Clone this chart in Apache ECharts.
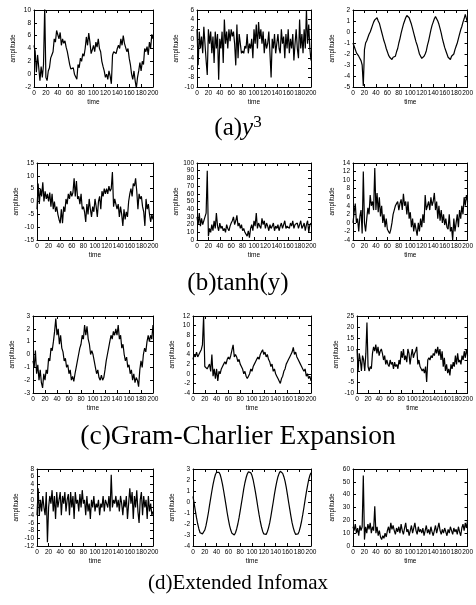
<!DOCTYPE html>
<html>
<head>
<meta charset="utf-8">
<script src="https://cdn.jsdelivr.net/npm/echarts@6/dist/echarts.min.js"></script>
<style>
html,body{margin:0;padding:0;background:#fff;}
#main{width:476px;height:605px;}
</style>
</head>
<body>
<div id="main"></div>
<script>
// time axis: one sample every 2 units, 0..200
var timeStep = 2;
var xTicks = [0, 200, 20];

// (a) y^3
var a1 = [4.5, 3.5, 0.3, 3, 3.2, -1, 1.2, -0.5, 1.5, 10.5,
  -0.5, -1, 0.5, 1, 2.5, 3, 3.5, 5.5, 5, 6.8,
  6.5, 5.5, 6.5, 4.5, 5.5, 4.8, 5.2, 4.2, 3.5, 2.5,
  1.5, 0.8, 0.5, 1, 0, 0.3, -0.8, 1.5, 1, 2.5,
  2, 3.2, 2.8, 4, 5.8, 4.5, 6.4, 5, 3.2, 3.8,
  4.5, 3.5, 5, 4.2, 5.5, 4, 3.5, 2, 1.2, 0.5,
  -0.5, 0, -0.8, 0.5, -0.3, -1.5, 3, 3.5, 3.8, 3.2,
  4, 4.5, 4, 5.5, 4.5, 6, 4.8, 4.5, 3.5, 4,
  2.5, 1.5, 0, -0.8, 0.5, -1, -2.2, -0.5, 0.5, 1.8,
  0.5, 2, 1.5, 4, 3.5, 4.3, 3, 5, 4, 6.2,
  5.5];
var a2 = [2, -5.5, 1.5, -2, 0.5, -3, 2.5, -1, -4.5, -7.5,
  2, -1, 1.5, -3, 0.5, -5, 1.5, -2, 1, -8.5,
  0, -2, 1.5, -5, 4, -1, 1.5, -2, 2, -0.5,
  2, 0.5, 1.5, -1, -5.5, 3, -4, 1, -1, -3,
  -2.5, -3, -1.5, -2, 1, -3, -1, -2, 0, -4,
  2, -1, 3, -2, 3.5, 0, 2, -1, 1.5, -3,
  0, -2, -1, 1.5, -3, -8, 0, -2, 1, -3,
  -1, 1, -2, -3, 2, -1, 0.5, -4, 1, -2,
  2, -3, 0, -2, 1, -4.5, -1, 2, -2, -4,
  4, -2, 1, -3, 2, -2, 6, -1, 3, -2,
  -4.5];
var a3 = [-1, -1.3, -1.2, -1.9, -2, -2.2, -2.3, -2.6, -3, -4.9,
  -1.6, -1, -0.8, -0.5, -0.2, 0, 0.3, 0.6, 0.9, 1.1,
  1.2, 1.3, 1, 0.8, 0.4, 0, -0.4, -0.8, -1.1, -1.5,
  -1.8, -2.1, -2.3, -2.4, -2.5, -2.3, -2.4, -2.2, -1.8, -1.5,
  -1, -0.6, -0.1, 0.3, 0.7, 1, 1.3, 1.5, 1.6, 1.3,
  1, 0.7, 0.3, -0.1, -0.5, -0.9, -1.2, -1.6, -2, -2.1,
  -2.4, -2.5, -2.2, -2, -1.7, -1.2, -0.8, -0.3, 0.2, 0.6,
  0.9, 1.2, 1.4, 1.3, 1, 0.7, 0.3, -0.1, -0.6, -1,
  -1.4, -1.7, -2, -2.3, -2.4, -2.5, -2.2, -2.3, -2, -1.6,
  -1.3, -1, -0.6, -0.2, 0.2, 0.5, 0.9, 1.2, 1.6, 1.5,
  0.8];

// (b) tanh(y)
var b1 = [-3, 7, -1, 5, 2, 7.5, 0, 4, 1, 3,
  0, 3.5, -2, 3, -3, 0, -4, -2, -5, -7,
  -8.5, -3, -8.5, -2, -4, 1, -1, 3, 1, 4,
  2, 3.5, 9, 2, 8, 1, 2, -1, 3, -3,
  -2, -4, -8, -1, -5, 1, -3, -6, -2, -4,
  1, -2, -6, 0, 2, -3, 4, 2, 5, 3,
  5, 3, 6, 4, 5, 11.5, -2, 1, -1, -3,
  -1, -6, -2, -5, -9.5, -3, -7, -4, -6, 0,
  3, 5, 2, 7, 6, 9, 4, -3, 3, 1,
  2, -2, -4, -9.5, 1, -3, -1, -5, -8, -5,
  -7];
var b2 = [30, 20, 35, 18, 28, 20, 22, 30, 35, 90,
  5, 15, 10, 20, 12, 25, 15, 35, 18, 12,
  22, 15, 18, 12, 15, 10, 20, 15, 12, 18,
  22, 25, 30, 20, 25, 32, 18, 22, 15, 20,
  12, 15, 10, 8, 5, 12, 3, 15, 20, 12,
  25, 18, 35, 15, 22, 18, 15, 28, 20, 25,
  15, 22, 18, 12, 20, 15, 18, 22, 12, 18,
  15, 20, 12, 18, 22, 15, 20, 25, 15, 18,
  20, 15, 22, 18, 25, 15, 20, 18, 22, 15,
  20, 25, 15, 18, 22, 12, 20, 25, 10, 20,
  22];
var b3 = [0, 2.5, 4.5, 0, 1, -2, 1.5, 3, -2.5, 12,
  0, -2, 1, 3.5, 2, 6.5, 4, 5, 3, 12.8,
  3, 7, 2.5, 6, 1.5, 4, 0, 2, -1, 1,
  -1.5, -2, -2.5, -1.5, 0, 2, 3, 4, 4.5, 5,
  3, 4.5, 5.5, 3, 6.8, 4, 5, 2, 5, 1,
  2.5, -1, 1, -2, 0, -1.5, -3, 0, -2, 1,
  -1, 2, 0, 6.5, 3, 4, 5, 3, 6, 4,
  5, 7, 3, 5, 1, 4, 0.5, 3, 0, 2,
  -0.5, 1, -1, -1.5, 2, -2, -1, -4, 1, -2,
  0, 2, -1, 3, 1, 4, 2, 6, 4, 6.5,
  5];

// (c) Gram-Charlier Expansion
var c1 = [-0.5, -1, 0.3, -1.5, -0.8, -2, -1.2, -2.2, -2.6, -1.5,
  -2, -1.2, -1.5, -0.3, -0.5, 0.5, 0.3, 1, 1.8, 2.8,
  1.5, 2, 0.8, 1.5, 0.5, 0.2, -0.5, -0.3, -1, -0.8,
  -1.5, -1.2, -2, -1.7, -2.1, -1.5, -1, -0.5, 0, 0.5,
  0.8, 1.5, 1.2, 2.3, 1.5, 2.2, 1.2, 0.8, 0, 0.3,
  0, -0.5, -1, -1.5, -1.2, -1.8, -2, -1.6, -2, -1.8,
  -1.2, -0.5, 0, 0.5, 1, 1.5, 1.2, 1.8, 1.5, 2,
  1.5, 2.3, 1.2, 1.5, 0.5, 0.8, 0, -0.5, -0.2, -1,
  -0.8, -1.5, -1.2, -2, -1.5, -2.2, -1.8, -2, -2.5, -1.2,
  -0.5, -1, 0, 0.5, 0.2, 1, 1.5, 1, 1.5, 1.2,
  2.3];
var c2 = [3, 4, 3.5, 4.5, 3.5, 4, 4.5, 5, 6, 12,
  1.5, 1.8, 1, 1.5, 2, 0.5, 4, -0.5, 1, -1,
  1, -1.5, 0.5, 0, 1, 1.5, 2, 2.5, 2, 3,
  3.5, 3, 3.8, 4, 6, 3.5, 4, 3.5, 2.5, 3,
  2, 1.5, 1, 0, 0.5, -0.5, -1, -0.5, 0, 1,
  0.5, 1.5, 2, 2.5, 3, 3.5, 3, 4, 4.5, 5,
  4, 4.5, 3.5, 4, 3, 2.5, 1.5, 2, 0.5, 1,
  0, -0.5, -1, -1.5, -2, -1, -0.5, 0.5, 1, 2,
  2.5, 3, 3.5, 4, 4.5, 5.5, 4, 4.5, 3.5, 3,
  3, 2, 1.5, 1, 0.5, 1, -0.5, 0, -1, -0.5,
  -1.5];
var c3 = [10, 0, 8, 5, 0, 7, 5, 0, 8, 22,
  2, 0, 2, 1, 8, 11, 9, 12, 8, 11,
  7, 9, 10, 8, 5, 7, 3, 5, 3, 2,
  5, 3, 4, 1, 4, 2, 3, 1, 5, 3,
  9, 6, 10, 5, 7, 4, 10, 8, 3, 7,
  10, 6, 8, 9, 11, 3, 5, 2, 1, 0,
  1, -1, 2, -5, 5, 6, 5, 7, 6, 8,
  7, 10, 8, 11, 7, 10, 5, 9, 2, 6,
  0, 3, -1, 1, -2, 3, 1, 4, 2, 7,
  3, 8, 4, 5, 3, 7, 5, 9, 6, 10,
  7];

// (d) Extended Infomax
var d1 = [-4, 3, -4, 0, -3, 1, -2, -4, 2, -11,
  -2, 1, -1, 2.5, -3, 1, -5, 2, -2, 0,
  2, -4, 1, -1, 2, -3, 0, 1.5, -4, 2,
  -2, 1, -5, 2, -1, 0, -3, 1.5, -2, 2.5,
  -1, 0, -4, 1, -3, -1, -5, 0, -2, 1,
  -3, -1, -2, 0, -4, -1, -2, 1, -3, 0,
  -1, -2, 1, -3, 6.5, -2, 0, -1, 1, -2,
  0, -3, 1, -1, -4, 0, -2, 1, -5, -1,
  3, -1, 2, -5, 1, -2, 2.5, -3, -6, 0,
  2, -4, 1, -2, 0, -5, 1, -3, -1, -4,
  -3];
var d2 = [0.5, -0.15, -0.8, -1.45, -2, -2.45, -2.8, -2.95, -2.9, -2.85,
  -2.55, -2.15, -1.6, -1, -0.3, 0.35, 1, 1.6, 2.1, 2.5,
  2.7, 2.8, 2.7, 2.5, 2.1, 1.6, 1, 0.35, -0.3, -1,
  -1.6, -2.15, -2.55, -2.85, -2.95, -3, -2.8, -2.45, -2, -1.45,
  -0.8, -0.15, 0.5, 1.2, 1.75, 2.2, 2.55, 2.75, 2.8, 2.65,
  2.4, 2, 1.45, 0.85, 0.2, -0.5, -1.15, -1.75, -2.25, -2.65,
  -2.9, -3, -2.95, -2.7, -2.35, -1.9, -1.3, -0.65, 0, 0.7,
  1.3, 1.85, 2.3, 2.6, 2.8, 2.75, 2.6, 2.3, 1.9, 1.35,
  0.7, 0, -0.65, -1.3, -1.9, -2.35, -2.7, -2.95, -3, -2.9,
  -2.65, -2.25, -1.75, -1.15, -0.5, 0.2, 0.85, 1.45, 2, 2.4,
  2.65];
var d3 = [15, 12, 17, 10, 14, 8, 16, 12, 15, 55,
  5, 15, 10, 17, 13, 18, 10, 15, 12, 31,
  10, 15, 8, 12, 7, 5, 8, 6, 10, 7,
  12, 15, 10, 18, 13, 16, 12, 9, 14, 11,
  15, 10, 17, 12, 9, 14, 18, 11, 13, 8,
  12, 16, 10, 14, 18, 12, 9, 15, 11, 13,
  10, 14, 8, 12, 16, 10, 13, 9, 15, 11,
  8, 12, 16, 10, 14, 18, 12, 9, 13, 10,
  14, 11, 8, 13, 10, 15, 12, 9, 14, 11,
  13, 9, 15, 11, 8, 14, 17, 12, 18, 14,
  20];

// y ranges per panel: [min, max, interval]
var yRanges = [
  [-2, 10, 2], [-10, 6, 2], [-5, 2, 1],
  [-15, 15, 5], [0, 100, 10], [-4, 14, 2],
  [-3, 3, 1], [-4, 12, 2], [-10, 25, 5],
  [-12, 8, 2], [-4, 3, 1], [0, 60, 10]
];
var panels = [a1, a2, a3, b1, b2, b3, c1, c2, c3, d1, d2, d3];

var captions = [
  '(a){i|y}{s|3}',
  '(b)tanh(y)',
  '(c)Gram-Charlier Expansion',
  '(d)Extended Infomax'
];

// layout (pixels)
var rowTop = [10, 163, 316, 469];
var plotH = 77;
var colRight = [153, 311, 474];
var colLeft = [[34, 197, 353], [37, 197, 353], [33, 193, 357], [37, 193, 353]];
var captionY = [128, 283, 437, 583];
var captionSize = [25, 25, 27.5, 21];

var tickFont = {fontFamily: 'Liberation Sans', fontSize: 6.5, color: '#000'};

function toPairs(arr) {
  var out = [];
  for (var i = 0; i < arr.length; i++) {
    out.push([i * timeStep, arr[i]]);
  }
  return out;
}

var grids = [], xAxes = [], yAxes = [], series = [], graphics = [];
for (var p = 0; p < panels.length; p++) {
  var r = Math.floor(p / 3), c = p % 3;
  var left = colLeft[r][c];
  grids.push({
    left: left, top: rowTop[r],
    width: colRight[c] - left, height: plotH,
    show: false
  });
  var xa = {
    type: 'value', gridIndex: p, min: xTicks[0], max: xTicks[1], interval: xTicks[2],
    axisLine: {show: true, onZero: false, lineStyle: {color: '#000', width: 1}},
    axisTick: {show: true, inside: true, length: 3, lineStyle: {color: '#000'}},
    splitLine: {show: false}
  };
  xAxes.push(Object.assign({}, xa, {
    position: 'bottom',
    axisLabel: Object.assign({margin: 3}, tickFont),
    name: 'time', nameLocation: 'middle', nameGap: 12,
    nameTextStyle: tickFont
  }));
  xAxes.push(Object.assign({}, xa, {position: 'top', axisLabel: {show: false}}));

  var yr = yRanges[p];
  var ya = {
    type: 'value', gridIndex: p, min: yr[0], max: yr[1], interval: yr[2],
    axisLine: {show: true, onZero: false, lineStyle: {color: '#000', width: 1}},
    axisTick: {show: true, inside: true, length: 3, lineStyle: {color: '#000'}},
    splitLine: {show: false}
  };
  yAxes.push(Object.assign({}, ya, {
    position: 'left',
    axisLabel: Object.assign({margin: 3}, tickFont),
    name: 'amplitude', nameLocation: 'middle', nameGap: 17,
    nameTextStyle: tickFont
  }));
  yAxes.push(Object.assign({}, ya, {position: 'right', axisLabel: {show: false}}));

  series.push({
    type: 'line',
    xAxisIndex: p * 2, yAxisIndex: p * 2,
    data: toPairs(panels[p]),
    showSymbol: false,
    animation: false,
    lineStyle: {color: '#000', width: 1.2},
    silent: true
  });
}

var serif = 'Liberation Serif';
for (var k = 0; k < captions.length; k++) {
  var fs = captionSize[k];
  graphics.push({
    type: 'text', x: 238, y: captionY[k],
    style: {
      text: captions[k],
      x: 0, y: 0,
      align: 'center', verticalAlign: 'middle',
      fontFamily: serif, fontSize: fs, fill: '#000',
      rich: {
        i: {fontFamily: serif, fontSize: fs, fontStyle: 'italic'},
        s: {fontFamily: serif, fontSize: 17, verticalAlign: 'top', padding: [0, 0, 11, 0]}
      }
    }
  });
}

var chart = echarts.init(document.getElementById('main'));
chart.setOption({
  animation: false,
  backgroundColor: '#fff',
  grid: grids,
  xAxis: xAxes,
  yAxis: yAxes,
  series: series,
  graphic: graphics
});
</script>
</body>
</html>
